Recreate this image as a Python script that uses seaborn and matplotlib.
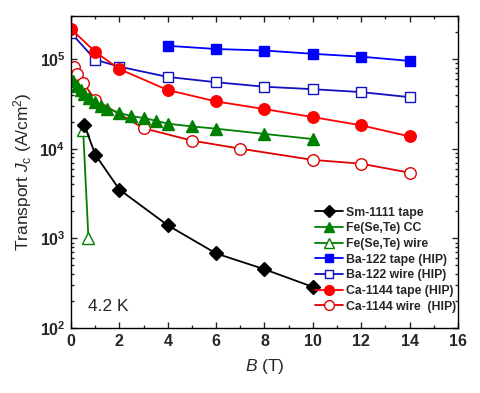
import matplotlib
matplotlib.use("Agg")
import matplotlib.pyplot as plt
import seaborn as sns
import numpy as np
import pandas as pd
from matplotlib.ticker import LogLocator, MultipleLocator, NullFormatter

sns.set_theme(style="ticks")
plt.rcParams['font.family'] = ['Liberation Sans', 'DejaVu Sans']
plt.rcParams['mathtext.fontset'] = 'custom'
plt.rcParams['mathtext.it'] = 'Liberation Sans:italic'
plt.rcParams['mathtext.rm'] = 'Liberation Sans'

# ---- data ----
sm1111_B = [0.55, 1, 2, 4, 6, 8, 10]
sm1111_J = [1.85e4, 8.6e3, 3.5e3, 1.4e3, 680, 453, 288]

fst_cc_B = [0.1, 0.25, 0.4, 0.55, 0.75, 1.0, 1.25, 1.5, 2, 2.5, 3, 3.5, 4, 5, 6, 8, 10]
fst_cc_J = [5.7e4, 5.0e4, 4.5e4, 4.1e4, 3.7e4, 3.3e4, 3.0e4, 2.8e4, 2.5e4, 2.3e4,
            2.2e4, 2.05e4, 1.9e4, 1.77e4, 1.67e4, 1.46e4, 1.28e4]

fst_wire_B = [0.5, 0.72]
fst_wire_J = [1.6e4, 1.0e3]

ba_tape_B = [4, 6, 8, 10, 12, 14]
ba_tape_J = [1.4e5, 1.29e5, 1.24e5, 1.14e5, 1.06e5, 9.5e4]

ba_wire_B = [0, 1, 2, 4, 6, 8, 10, 12, 14]
ba_wire_J = [1.95e5, 9.8e4, 8.2e4, 6.3e4, 5.5e4, 4.9e4, 4.6e4, 4.27e4, 3.75e4]

ca_tape_B = [0, 1, 2, 4, 6, 8, 10, 12, 14]
ca_tape_J = [2.15e5, 1.2e5, 7.7e4, 4.5e4, 3.36e4, 2.76e4, 2.25e4, 1.82e4, 1.37e4]

ca_wire_B = [0.12, 0.26, 0.5, 1, 3, 5, 7, 10, 12, 14]
ca_wire_J = [8.2e4, 6.8e4, 5.45e4, 3.5e4, 1.69e4, 1.23e4, 1.0e4, 7.5e3, 6.8e3, 5.4e3]

labels = ["Sm-1111 tape", "Fe(Se,Te) CC", "Fe(Se,Te) wire", "Ba-122 tape (HIP)",
          "Ba-122 wire (HIP)", "Ca-1144 tape (HIP)", "Ca-1144 wire  (HIP)"]

GREEN = "#008000"
series = [
    (sm1111_B, sm1111_J, "black", "D", "black", 7.5),
    (fst_cc_B, fst_cc_J, GREEN, "^", GREEN, 8),
    (fst_wire_B, fst_wire_J, GREEN, "^", "white", 8.5),
    (ba_tape_B, ba_tape_J, "#0000FF", "s", "#0000FF", 7),
    (ba_wire_B, ba_wire_J, "#1010C0", "s", "white", 7),
    (ca_tape_B, ca_tape_J, "#FF0000", "o", "#FF0000", 8.3),
    (ca_wire_B, ca_wire_J, "#E00000", "o", "white", 8.3),
]

fig, ax = plt.subplots(figsize=(4.8, 3.93), dpi=100)
fig.subplots_adjust(left=0.148, right=0.954, top=0.959, bottom=0.165)

order = [3, 4, 5, 6, 1, 2, 0]
for i in order:
    B, J, col, mk, mfc, ms = series[i]
    df = pd.DataFrame({"B": B, "J": J})
    sns.lineplot(data=df, x="B", y="J", ax=ax, color=col, marker=mk,
                 markerfacecolor=mfc, markeredgecolor=col, markersize=ms,
                 markeredgewidth=1.0, linewidth=1.3, sort=False,
                 estimator=None, label=labels[i])

ax.set_yscale("log")
ax.set_xlim(0, 16)
ax.set_ylim(1e2, 3e5)
ax.xaxis.set_major_locator(MultipleLocator(2))
ax.xaxis.set_minor_locator(MultipleLocator(1))
ax.yaxis.set_major_locator(LogLocator(base=10, numticks=10))
ax.yaxis.set_minor_locator(LogLocator(base=10, subs=np.arange(2, 10), numticks=20))
ax.yaxis.set_minor_formatter(NullFormatter())
ax.tick_params(which="both", direction="in", top=True, right=True, width=1.0)
ax.tick_params(which="major", length=4.5, labelsize=11.5, pad=4)
ax.tick_params(which="minor", length=2.5)
for lab in ax.get_xticklabels() + ax.get_yticklabels():
    lab.set_fontweight("bold")
for sp in ax.spines.values():
    sp.set_linewidth(1.0)
    sp.set_color("black")

ax.set_xlabel(r"$\it{B}$ (T)", fontsize=12.5, labelpad=6)
ax.set_ylabel(r"Transport $\it{J}_{\rm c}$ (A/cm$^2$)", fontsize=12.5, labelpad=4)

ax.text(0.7, 175, "4.2 K", fontsize=12.5, va="center", ha="left")

hs, ls = ax.get_legend_handles_labels()
lookup = dict(zip(ls, hs))
leg = ax.legend([lookup[l] for l in labels], labels, loc="lower right",
                frameon=False, prop={"weight": "bold", "size": 8.8},
                handlelength=2.3, handletextpad=0.2, labelspacing=0.3,
                markerscale=0.85, borderaxespad=0.1, bbox_to_anchor=(1.01, 0.03))

fig.savefig("out.png", dpi=100)
